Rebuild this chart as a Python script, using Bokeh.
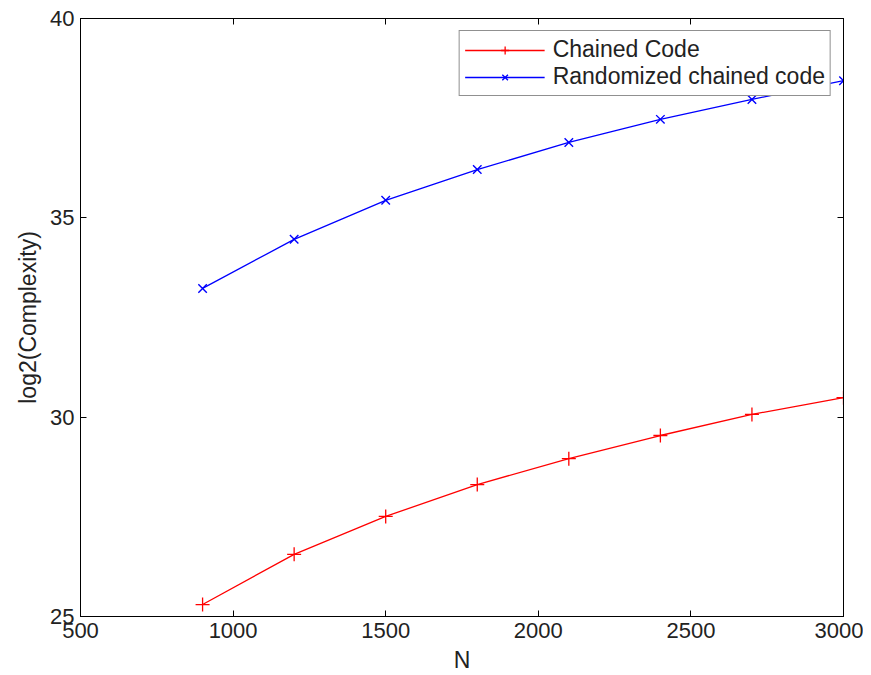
from bokeh.plotting import figure
from bokeh.models import LinearAxis, Range1d, FixedTicker, Legend, LegendItem, CustomJSTickFormatter
from bokeh.embed import file_html
from bokeh.resources import INLINE

N = [900, 1200, 1500, 1800, 2100, 2400, 2700, 3000]
chained = [25.30, 26.56, 27.51, 28.31, 28.96, 29.54, 30.07, 30.49]
randomized = [33.23, 34.46, 35.44, 36.21, 36.89, 37.47, 37.97, 38.44]
x_ticks = [500, 1000, 1500, 2000, 2500, 3000]
y_ticks = [25, 30, 35, 40]

FONT = "Liberation Sans"

p = figure(width=863, height=675, output_backend="svg", toolbar_location=None,
           x_range=Range1d(500, 3000), y_range=Range1d(25, 40),
           min_border_left=80, min_border_right=20, min_border_top=18, min_border_bottom=51)
p.xgrid.visible = False
p.ygrid.visible = False
p.outline_line_color = "black"
p.outline_line_width = 1
p.background_fill_color = "white"

def style(ax, ticks, labels=True):
    ax.ticker = FixedTicker(ticks=ticks)
    ax.major_tick_in = 6
    ax.major_tick_out = 0
    ax.minor_tick_line_color = None
    ax.axis_line_color = "black"
    ax.major_tick_line_color = "black"
    ax.major_label_text_font = FONT
    ax.major_label_text_font_size = "22px"
    ax.major_label_text_color = "#222222"
    ax.axis_label_text_font = FONT
    ax.axis_label_text_font_size = "23px"
    ax.axis_label_text_font_style = "normal"
    ax.axis_label_text_color = "#222222"
    if not labels:
        ax.formatter = CustomJSTickFormatter(code="return '';")
        ax.major_label_standoff = 0

style(p.xaxis[0], x_ticks)
style(p.yaxis[0], y_ticks)
p.xaxis[0].axis_label = "N"
p.yaxis[0].axis_label = "log2(Complexity)"
p.xaxis[0].major_label_standoff = 6
p.yaxis[0].major_label_standoff = 6
p.xaxis[0].axis_label_standoff = 6
p.yaxis[0].axis_label_standoff = 6

top = LinearAxis()
style(top, x_ticks, labels=False)
p.add_layout(top, "above")
right = LinearAxis()
style(right, y_ticks, labels=False)
p.add_layout(right, "right")

r1 = p.line(N, chained, line_color="red", line_width=1.3)
m1 = p.scatter(N, chained, marker="cross", size=14, line_color="red", line_width=1.3)
r2 = p.line(N, randomized, line_color="blue", line_width=1.3)
m2 = p.scatter(N, randomized, marker="x", size=12, line_color="blue", line_width=1.4)

legend = Legend(items=[LegendItem(label="Chained Code", renderers=[r1, m1]),
                       LegendItem(label="Randomized chained code", renderers=[r2, m2])],
                location="top_right")
legend.border_line_color = "#222222"
legend.border_line_width = 1.5
legend.background_fill_alpha = 1
legend.label_text_font = FONT
legend.label_text_font_size = "23px"
legend.label_text_color = "#222222"
legend.glyph_width = 80
legend.label_height = 22
legend.spacing = 0
legend.padding = 5
legend.margin = 12
legend.label_standoff = 8
p.add_layout(legend)

open("out.html", "w").write(file_html(p, INLINE))
